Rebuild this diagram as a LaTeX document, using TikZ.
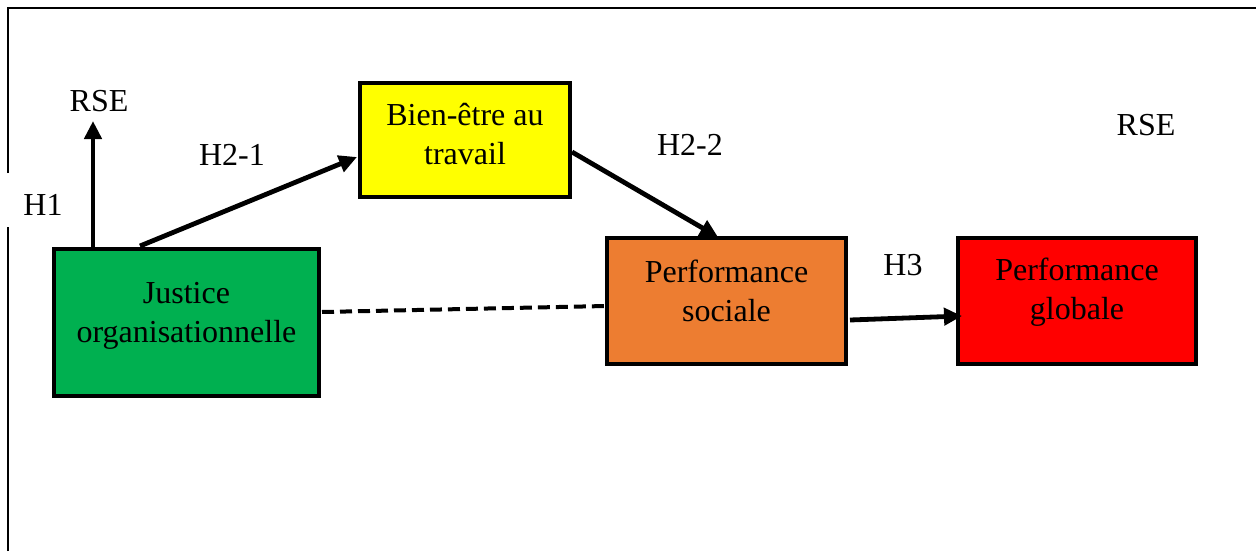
\documentclass[tikz,border=0pt]{standalone}
\usepackage{fontspec}
\setmainfont{Liberation Serif}
\usetikzlibrary{arrows.meta}
\definecolor{cgreen}{RGB}{0,176,80}
\definecolor{cyellow}{RGB}{255,255,0}
\definecolor{corange}{RGB}{237,125,49}
\definecolor{cred}{RGB}{255,0,0}
\begin{document}
\begin{tikzpicture}[x=0.5pt,y=-0.5pt,
  box/.style={draw=black, line width=2pt, inner sep=0pt},
  txt/.style={align=center, font=\fontsize{16pt}{19.5pt}\selectfont, inner sep=0pt},
  lbl/.style={font=\fontsize{16pt}{19.5pt}\selectfont, inner sep=1pt},
  arr/.style={line width=2.4pt, -{Triangle[length=9pt,width=8.5pt]}},
  frame/.style={line width=1pt}]
\useasboundingbox (0,0) rectangle (1256,551);
% frame
\coordinate (f1) at (8,551);
\coordinate (f2) at (8,227);
\coordinate (f3) at (8,173);
\coordinate (f4) at (8,8);
\coordinate (f5) at (1256,8);
\draw[frame] (f1) -- (f2);
\draw[frame] (f3) -- (f4) -- (f5);
% boxes
\node[box, fill=cgreen, minimum width=132.5pt, minimum height=73.5pt] (j) at (186.5,322.5) {};
\node[box, fill=cyellow, minimum width=105pt, minimum height=57pt] (b) at (465,140) {};
\node[box, fill=corange, minimum width=119.5pt, minimum height=63pt] (ps) at (726.5,301) {};
\node[box, fill=cred, minimum width=119pt, minimum height=63pt] (pg) at (1077,301) {};
% texts
\node[txt] (jt) at (186.5,316) {Justice\\organisationnelle};
\node[txt] (bt) at (465,134) {Bien-être au\\travail};
\node[txt] (pst) at (726.5,290.5) {Performance\\sociale};
\node[txt] (pgt) at (1077,292) {Performance\\globale};
% labels
\node[lbl] (rse1) at (99,101) {RSE};
\node[lbl] (rse2) at (1146,125) {RSE};
\node[lbl] (h1) at (43,205) {H1};
\node[lbl] (h21) at (232,155) {H2-1};
\node[lbl] (h22) at (690,145) {H2-2};
\node[lbl] (h3) at (903,265) {H3};
% connector end points on boxes
\coordinate (jr) at (93,247);
\coordinate (jb) at (140,246);
\coordinate (rt) at (93,121);
\coordinate (bl) at (357,157);
\coordinate (br) at (572,152);
\coordinate (pt) at (718,237);
\coordinate (jrr) at (322,312);
\coordinate (psl) at (606,306);
\coordinate (psr) at (850,320);
\coordinate (pgl) at (962,316);
% connectors
\draw[arr] (jr) -- (rt);
\draw[arr] (jb) -- (bl);
\draw[arr] (br) -- (pt);
\draw[arr] (psr) -- (pgl);
\draw[line width=2pt, dash pattern=on 6pt off 3pt] (jrr) -- (psl);
\end{tikzpicture}
\end{document}
